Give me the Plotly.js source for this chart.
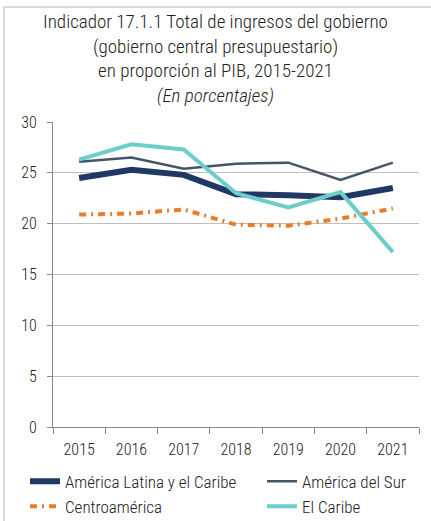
<!DOCTYPE html>
<html>
<head>
<meta charset="utf-8">
<script src="https://cdn.plot.ly/plotly-3.0.1.min.js"></script>
<style>
html,body{margin:0;padding:0;background:#fff;}
#wrap{position:relative;width:431px;height:521px;overflow:hidden;}
#chart{width:431px;height:521px;}
#bl{position:absolute;left:3px;top:6px;width:2px;height:515px;background:#d9d9d9;}
#bt{position:absolute;left:3px;top:6px;width:428px;height:2px;background:#d9d9d9;}
</style>
</head>
<body>
<div id="wrap"><div id="chart"></div><div id="bl"></div><div id="bt"></div></div>
<script>
const years = ['2015','2016','2017','2018','2019','2020','2021'];
const alc = [24.5, 25.3, 24.8, 22.9, 22.8, 22.6, 23.5];
const sur = [26.1, 26.5, 25.4, 25.9, 26.0, 24.3, 26.0];
const centro = [20.9, 21.0, 21.4, 19.9, 19.8, 20.5, 21.5];
const caribe = [26.3, 27.8, 27.3, 23.0, 21.6, 23.1, 17.2];
const names = ['América Latina y el Caribe', 'América del Sur', 'Centroamérica', 'El Caribe'];

const FONT = 'Roboto Condensed, Roboto, sans-serif';

const traces = [
  {x: years, y: alc, name: names[0], mode: 'lines', legend: 'legend', line: {color: '#1f3864', width: 6}},
  {x: years, y: sur, name: names[1], mode: 'lines', legend: 'legend2', line: {color: '#44546a', width: 2.5}},
  {x: years, y: centro, name: names[2], mode: 'lines', legend: 'legend', line: {color: '#e97c2a', width: 4, dash: '7px,5px,2px,5px'}},
  {x: years, y: caribe, name: names[3], mode: 'lines', legend: 'legend2', line: {color: '#6ccdc9', width: 4}}
];

const legFont = {family: FONT, size: 17, color: '#222', weight: 300};
const layout = {
  width: 431, height: 521,
  margin: {l: 53, r: 12, t: 122, b: 94, autoexpand: false},
  paper_bgcolor: '#fff', plot_bgcolor: '#fff',
  font: {family: FONT, size: 16, color: '#222', weight: 300},
  title: {
    text: 'Indicador 17.1.1 Total de ingresos del gobierno<br>(gobierno central presupuestario)<br>en proporción al PIB, 2015-2021<br><i>(En porcentajes)</i>',
    font: {family: FONT, size: 19, color: '#222', weight: 300},
    x: 0.5, xanchor: 'center', xref: 'container',
    y: 1 - 28/521, yanchor: 'top', yref: 'container'
  },
  xaxis: {
    type: 'category', range: [-0.5, 6.5], tickson: 'boundaries', ticks: 'outside', ticklen: 6, tickcolor: '#888',
    showline: true, linecolor: '#888', linewidth: 1, showgrid: false,
    tickfont: {family: FONT, size: 16, color: '#222', weight: 300}, ticklabelstandoff: 8,
    fixedrange: true
  },
  yaxis: {
    range: [0, 30], dtick: 5, ticks: 'outside', ticklen: 5, tickcolor: '#888',
    showline: true, linecolor: '#888', linewidth: 1,
    showgrid: true, gridcolor: '#bfbfbf', gridwidth: 1, zeroline: false,
    tickfont: {family: FONT, size: 16, color: '#222', weight: 300}, ticklabelstandoff: 7,
    fixedrange: true
  },
  showlegend: true,
  legend: {
    orientation: 'v', x: (25 - 53) / 366, xanchor: 'left', y: -0.12, yanchor: 'top',
    traceorder: 'normal', font: legFont, tracegroupgap: 0, bgcolor: 'rgba(0,0,0,0)'
  },
  legend2: {
    orientation: 'v', x: (262 - 53) / 366, xanchor: 'left', y: -0.12, yanchor: 'top',
    traceorder: 'normal', font: legFont, tracegroupgap: 0, bgcolor: 'rgba(0,0,0,0)'
  }
};

Plotly.newPlot('chart', traces, layout, {displayModeBar: false, staticPlot: true});
</script>
</body>
</html>
